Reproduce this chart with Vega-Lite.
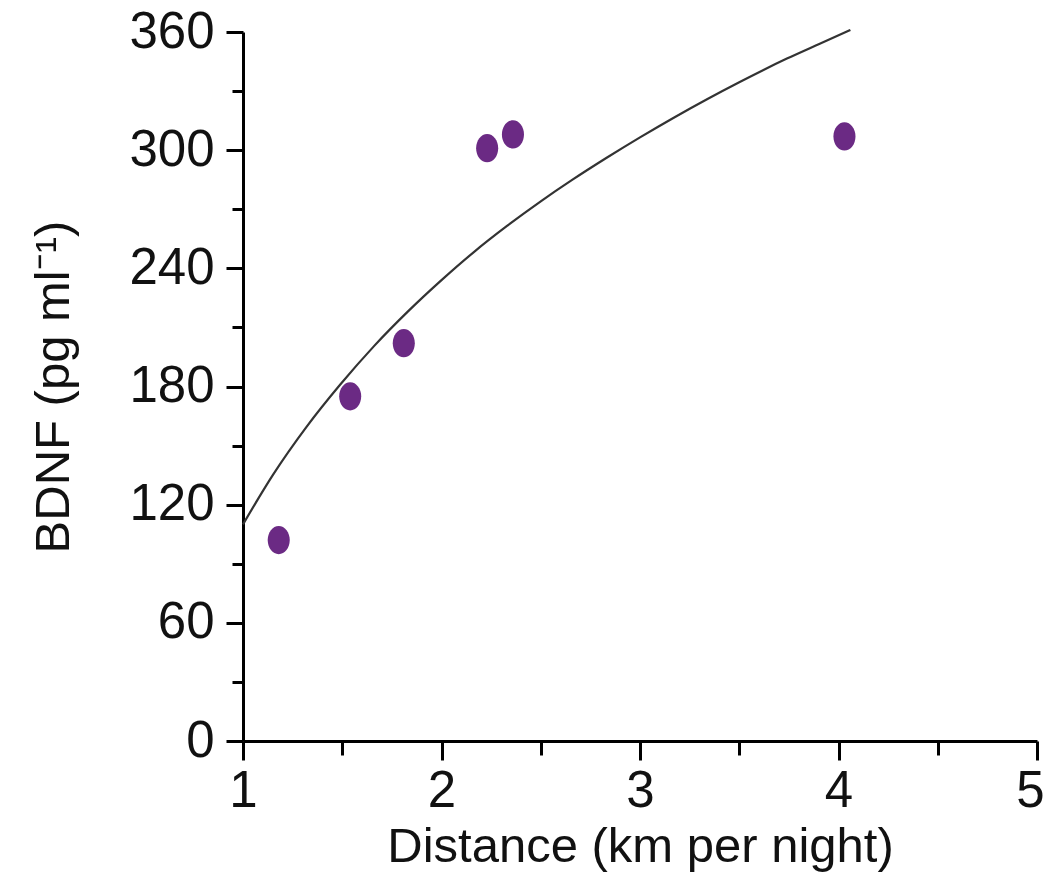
{
  "$schema": "https://vega.github.io/schema/vega-lite/v6.json",
  "width": 794,
  "height": 709,
  "autosize": {"type": "none"},
  "padding": {"left": 243, "top": 32, "right": 11, "bottom": 136},
  "background": "white",
  "config": {
    "view": {"stroke": null},
    "font": "Liberation Sans",
    "axis": {
      "grid": false,
      "domainColor": "black",
      "domainWidth": 3,
      "tickColor": "black",
      "tickWidth": 3,
      "labelFont": "Liberation Sans",
      "titleFont": "Liberation Sans",
      "labelFontSize": 51,
      "titleFontSize": 49,
      "labelColor": "#111",
      "titleColor": "#111",
      "titleFontWeight": "normal",
      "labelFontWeight": "normal"
    }
  },
  "datasets": {
    "pts": [
      {"distance": 1.18, "bdnf": 102},
      {"distance": 1.54, "bdnf": 175},
      {"distance": 1.81, "bdnf": 202},
      {"distance": 2.23, "bdnf": 301},
      {"distance": 2.36, "bdnf": 308},
      {"distance": 4.03, "bdnf": 307}
    ],
    "fit": [
      {"distance": 1.0, "bdnf": 110},
      {"distance": 1.15, "bdnf": 135},
      {"distance": 1.32, "bdnf": 159.5},
      {"distance": 1.49, "bdnf": 181},
      {"distance": 1.66, "bdnf": 200.5},
      {"distance": 1.83, "bdnf": 218},
      {"distance": 2.0, "bdnf": 234},
      {"distance": 2.16, "bdnf": 248},
      {"distance": 2.33, "bdnf": 261.5},
      {"distance": 2.5, "bdnf": 274},
      {"distance": 2.66, "bdnf": 285},
      {"distance": 2.83, "bdnf": 296},
      {"distance": 3.0, "bdnf": 306.5},
      {"distance": 3.17, "bdnf": 316.5},
      {"distance": 3.34, "bdnf": 326},
      {"distance": 3.5, "bdnf": 334.5},
      {"distance": 3.74, "bdnf": 346.5},
      {"distance": 3.9, "bdnf": 353.8},
      {"distance": 4.06, "bdnf": 361}
    ]
  },
  "encoding": {
    "x": {
      "field": "distance",
      "type": "quantitative",
      "scale": {"domain": [1, 5], "nice": false, "zero": false},
      "axis": {
        "title": "Distance (km per night)",
        "values": [1, 1.5, 2, 2.5, 3, 3.5, 4, 4.5, 5],
        "labelExpr": "datum.value % 1 === 0 ? format(datum.value, 'd') : ''",
        "tickSize": {"condition": {"test": "datum.value % 1 === 0", "value": 19}, "value": 14},
        "labelOffset": {"condition": {"test": "datum.value === 5", "value": -7}, "value": 0},
        "labelPadding": 6,
        "titlePadding": 6,
        "labelFlush": false
      }
    },
    "y": {
      "field": "bdnf",
      "type": "quantitative",
      "scale": {"domain": [0, 360], "nice": false},
      "axis": {
        "title": "BDNF (pg ml⁻¹)",
        "values": [0, 30, 60, 90, 120, 150, 180, 210, 240, 270, 300, 330, 360],
        "labelExpr": "datum.value % 60 === 0 ? datum.label : ''",
        "tickSize": {"condition": {"test": "datum.value % 60 === 0", "value": 17}, "value": 11},
        "labelPadding": 12,
        "titlePadding": 50,
        "labelFlush": false
      }
    }
  },
  "layer": [
    {
      "data": {"name": "fit"},
      "mark": {"type": "line", "color": "#333333", "strokeWidth": 2.2, "interpolate": "monotone"}
    },
    {
      "data": {"name": "pts"},
      "mark": {"type": "point", "shape": "M -0.78 0 A 0.78 1 0 1 0 0.78 0 A 0.78 1 0 1 0 -0.78 0 Z", "filled": true, "size": 800, "color": "#6b2a84", "opacity": 1}
    }
  ]
}
